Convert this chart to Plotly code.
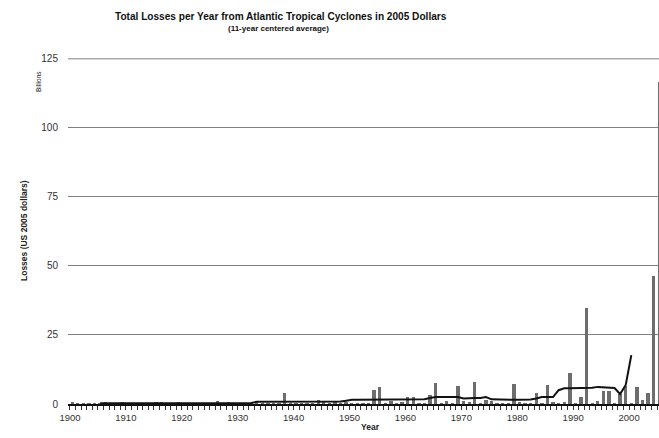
import plotly.graph_objects as go

# ---- data ----
years = list(range(1900, 2006))
losses = [
    0.6, 0.2, 0.1, 0.3, 0.2, 0.1, 0.4, 0.0, 0.1, 0.4,   # 1900-1909
    0.2, 0.1, 0.2, 0.1, 0.0, 0.8, 0.4, 0.1, 0.2, 0.5,   # 1910-1919
    0.1, 0.3, 0.0, 0.1, 0.2, 0.0, 1.0, 0.1, 0.5, 0.2,   # 1920-1929
    0.0, 0.0, 0.2, 0.4, 0.3, 0.3, 0.2, 0.1, 3.9, 0.1,   # 1930-1939
    0.3, 0.2, 0.2, 0.3, 1.5, 0.6, 0.1, 0.8, 0.3, 0.4,   # 1940-1949
    0.3, 0.1, 0.1, 0.2, 5.2, 6.0, 0.2, 1.2, 0.2, 0.4,   # 1950-1959
    2.5, 2.5, 0.1, 0.3, 3.2, 7.6, 0.3, 1.2, 0.2, 6.5,   # 1960-1969
    1.2, 0.6, 7.9, 0.2, 1.4, 1.1, 0.3, 0.1, 0.2, 7.2,   # 1970-1979
    0.6, 0.1, 0.1, 4.0, 0.3, 6.8, 0.4, 0.2, 0.4, 11.2,  # 1980-1989
    0.2, 2.4, 34.7, 0.3, 1.0, 4.6, 4.6, 0.3, 3.5, 6.5,  # 1990-1999
    0.1, 6.1, 1.5, 4.1, 46.5, 116.5,                    # 2000-2005
]

avg_years = list(range(1905, 2001))
avg_values = [
    0.3, 0.3, 0.3, 0.3, 0.3,                            # 1905-1909
    0.3, 0.3, 0.3, 0.3, 0.3, 0.4, 0.4, 0.4, 0.4, 0.4,   # 1910-1919
    0.4, 0.4, 0.4, 0.4, 0.4, 0.4, 0.4, 0.4, 0.4, 0.4,   # 1920-1929
    0.4, 0.4, 0.4, 0.8, 0.8, 0.8, 0.8, 0.8, 0.8, 0.9,   # 1930-1939
    0.9, 0.9, 0.9, 0.9, 1.0, 1.0, 0.9, 0.9, 0.9, 1.2,   # 1940-1949
    1.5, 1.5, 1.5, 1.6, 1.6, 1.6, 1.6, 1.5, 1.5, 1.5,   # 1950-1959
    1.5, 1.5, 1.6, 1.7, 2.2, 2.5, 2.5, 2.5, 2.5, 2.5,   # 1960-1969
    2.0, 2.2, 2.2, 2.2, 2.5, 1.7, 1.6, 1.6, 1.5, 1.5,   # 1970-1979
    1.5, 1.5, 1.6, 2.0, 2.5, 2.5, 2.5, 5.0, 5.7, 5.7,   # 1980-1989
    5.7, 5.7, 5.8, 5.9, 6.2, 6.1, 5.8, 5.8, 3.6, 6.9,   # 1990-1999
    17.7,                                               # 2000
]

y_ticks = [0, 25, 50, 75, 100, 125]
x_ticks = list(range(1900, 2001, 10))

BAR_OFFSET = 0.1
BAR_WIDTH = 0.6
CENTER = BAR_OFFSET + BAR_WIDTH / 2

FONT = "Liberation Sans, Arial, sans-serif"

W, H = 659, 438
# plot area in page pixels: left 68, right 659, top 58, bottom 404
ML, MR, MT, MB = 68, 0, 58, 438 - 404
PW, PH = W - ML - MR, H - MT - MB


def px_x(page_x):
    return (page_x - ML) / PW


def px_y(page_y):
    return (H - MB - page_y) / PH


fig = go.Figure()
fig.add_trace(go.Bar(
    x=years, y=losses, offset=BAR_OFFSET, width=BAR_WIDTH,
    marker=dict(color="#6d6d6d", line=dict(width=0)),
    showlegend=False,
))
fig.add_trace(go.Scatter(
    x=[y + CENTER for y in avg_years], y=avg_values, mode="lines",
    line=dict(color="#111111", width=2),
    showlegend=False,
))

fig.update_layout(
    width=W, height=H,
    margin=dict(l=ML, r=MR, t=MT, b=MB),
    paper_bgcolor="white", plot_bgcolor="white",
    font=dict(family=FONT, color="#333333"),
    bargap=0,
)

fig.add_annotation(text="<b>Total Losses per Year from Atlantic Tropical Cyclones in 2005 Dollars</b>",
                   x=px_x(281), y=px_y(17), xref="paper", yref="paper", showarrow=False,
                   font=dict(size=10.1, color="#111111"), xanchor="center", yanchor="middle")
fig.add_annotation(text="<b>(11-year centered average)</b>",
                   x=px_x(278), y=px_y(28), xref="paper", yref="paper", showarrow=False,
                   font=dict(size=8, color="#111111"), xanchor="center", yanchor="middle")
fig.add_annotation(text="<b>Losses (US 2005 dollars)</b>", textangle=-90,
                   x=px_x(17), y=0.5, xref="paper", yref="paper",
                   showarrow=False, font=dict(size=8.5, color="#222222"))
fig.add_annotation(text="Billions", textangle=-90,
                   x=px_x(33), y=px_y(69), xref="paper", yref="paper",
                   showarrow=False, font=dict(size=6.5, color="#222222"))
fig.add_annotation(text="<b>Year</b>",
                   x=px_x(370), y=px_y(432.5), xref="paper", yref="paper",
                   showarrow=False, font=dict(size=8.5, color="#222222"), borderpad=0)

# top gridline (drawn explicitly since it coincides with the plot edge)
fig.add_shape(type="line", xref="paper", yref="y", x0=0, x1=1,
              y0=y_ticks[-1], y1=y_ticks[-1], line=dict(color="#808080", width=1))

fig.update_xaxes(
    range=[1899.65, 2005.35], automargin=False,
    tickmode="array", tickvals=x_ticks, ticktext=[str(t) for t in x_ticks],
    ticks="outside", ticklen=4, tickcolor="#333333", tickwidth=1,
    minor=dict(dtick=1, tick0=1900, ticks="outside", ticklen=4, tickcolor="#333333", tickwidth=1),
    showgrid=False, zeroline=False,
    showline=True, linecolor="#111111", linewidth=1.5,
    tickfont=dict(size=9.5, color="#333333"),
    ticklabelstandoff=0,
)
fig.update_yaxes(
    range=[0, 125.3], automargin=False,
    tickmode="array", tickvals=y_ticks, ticktext=[str(t) for t in y_ticks],
    ticks="", showgrid=True, gridcolor="#808080", gridwidth=1,
    zeroline=False, showline=False,
    tickfont=dict(size=10, color="#333333"),
    ticklabelstandoff=9,
)

# remove the browser's default 8px body margin so the figure fills the window exactly
fig.write_html(
    "out.html",
    config={"displayModeBar": False},
    post_script="document.body.style.margin='0';document.body.style.overflow='hidden';",
)
